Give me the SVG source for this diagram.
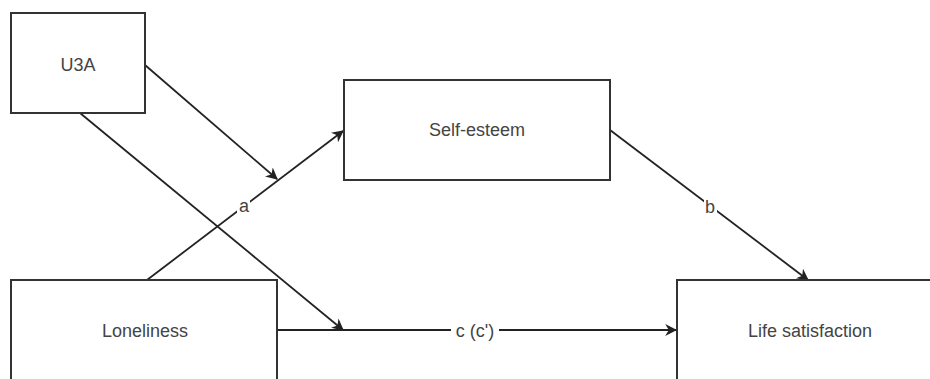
<svg xmlns="http://www.w3.org/2000/svg" width="930" height="379" viewBox="0 0 930 379">
<defs>
<marker id="arr" viewBox="0 0 10 10" refX="9" refY="5" markerWidth="12" markerHeight="12" markerUnits="userSpaceOnUse" orient="auto">
<path d="M0,0 L10,5 L0,10 L3,5 Z" fill="#222"/>
</marker>
</defs>
<style>
.box{fill:#fff;stroke:#333;stroke-width:2}
.lbl{font-family:"Liberation Sans",Arial,sans-serif;font-size:18px;fill:#444;text-anchor:middle;dominant-baseline:central}
.edge{stroke:#222;stroke-width:1.8;fill:none}
.el{font-family:"Liberation Sans",Arial,sans-serif;font-size:18px;fill:#444;text-anchor:middle;dominant-baseline:central}
</style>
<rect width="930" height="379" fill="#fff"/>
<g id="connectors">
<line class="edge" x1="145" y1="65" x2="277" y2="179" marker-end="url(#arr)"/>
<line class="edge" x1="80" y1="113" x2="343" y2="330" marker-end="url(#arr)"/>
<line class="edge" x1="147" y1="280" x2="343" y2="131" marker-end="url(#arr)"/>
<line class="edge" x1="610" y1="130" x2="808" y2="280" marker-end="url(#arr)"/>
<line class="edge" x1="277" y1="330" x2="676" y2="330" marker-end="url(#arr)"/>
<rect x="237" y="197" width="13" height="18" fill="#fff"/>
<text class="el" x="244" y="206">a</text>
<rect x="704" y="197" width="13" height="20" fill="#fff"/>
<text class="el" x="710" y="207">b</text>
<rect x="451" y="320" width="48" height="22" fill="#fff"/>
<text class="el" x="475" y="331">c (c')</text>
</g>
<g id="u3a">
<rect class="box" x="11" y="13" width="134" height="100"/>
<text class="lbl" x="78" y="65">U3A</text>
</g>
<g id="selfesteem">
<rect class="box" x="344" y="80" width="266" height="100"/>
<text class="lbl" x="477" y="130">Self-esteem</text>
</g>
<g id="loneliness">
<rect class="box" x="11" y="280" width="266" height="120"/>
<text class="lbl" x="145" y="331">Loneliness</text>
</g>
<g id="lifesat">
<rect class="box" x="677" y="280" width="270" height="120"/>
<text class="lbl" x="810" y="331">Life satisfaction</text>
</g>
</svg>
